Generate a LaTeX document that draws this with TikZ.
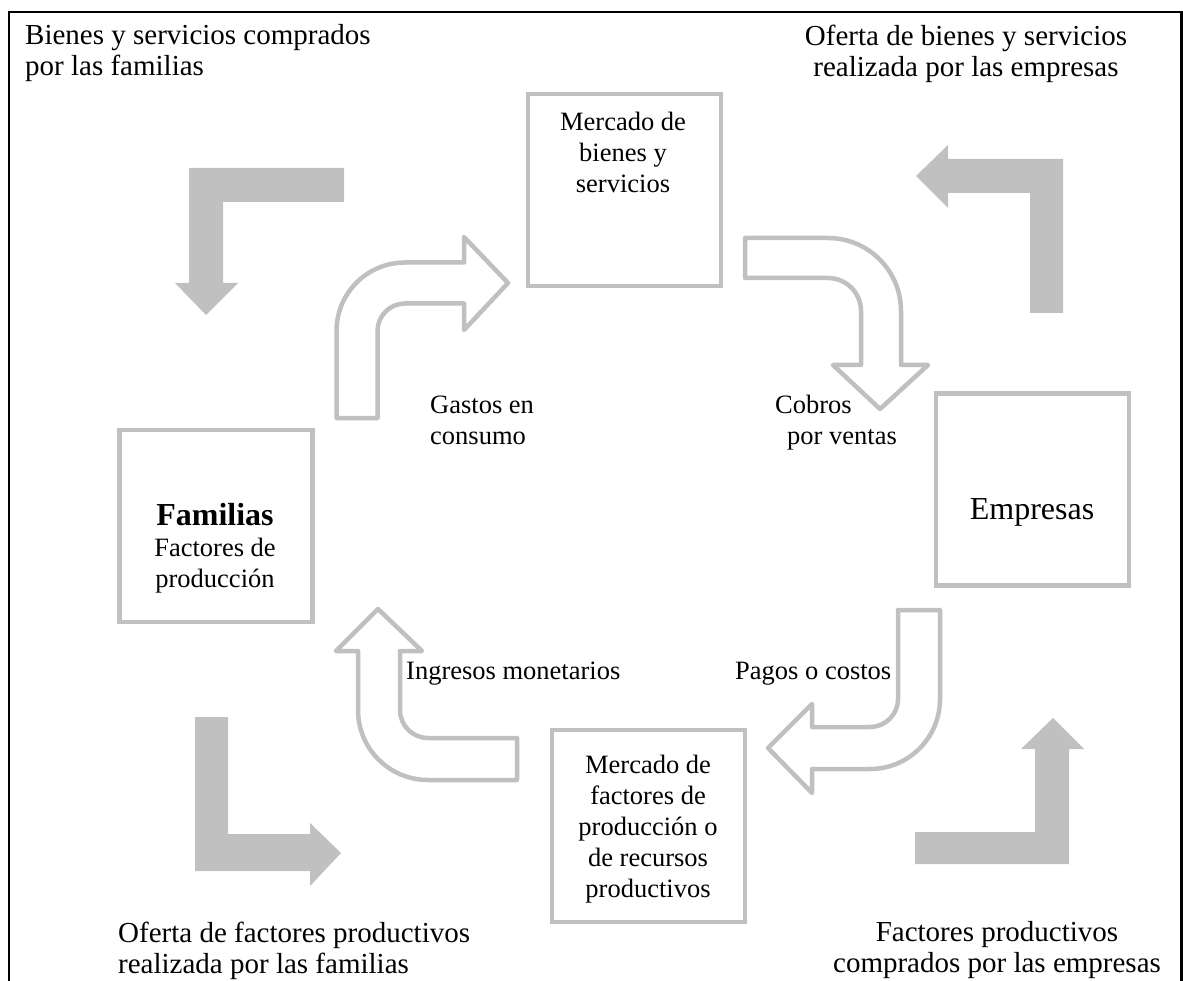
\documentclass[tikz,border=0pt]{standalone}
\usepackage{fontspec}
\setmainfont{Liberation Serif}
\definecolor{lgray}{RGB}{192,192,192}
\begin{document}
\begin{tikzpicture}[x=1pt,y=-1pt,
  box/.style={draw=lgray, line width=4.5pt, inner sep=0pt, minimum width=193pt, minimum height=192pt},
  solidarrow/.style={fill=lgray, draw=none},
  hollowarrow/.style={draw=lgray, line width=4.5pt, fill=white, line join=round},
  lbl/.style={inner sep=0pt, font=\fontsize{26.5}{31}\selectfont},
  corner/.style={inner sep=0pt, font=\fontsize{29}{31}\selectfont},
]
\useasboundingbox (0,0) rectangle (1183,981);
\fill[white] (0,0) rectangle (1183,981);
% frame
\draw[line width=2.5pt] (9,981) -- (9,12) -- (1181.5,12) -- (1181.5,981);

% boxes
\node[box] (mb) at (624.5,190) {};
\node[box] (emp) at (1032.5,489.5) {};
\node[box] (fam) at (216,526) {};
\node[box] (mf) at (648.5,826) {};

% box texts
\node[lbl, anchor=north, align=center] (mbt) at (623,112) {Mercado de\\bienes y\\servicios};
\node[inner sep=0pt, anchor=base, font=\fontsize{32}{36}\selectfont] (empt) at (1032,519) {Empresas};
\node[lbl, anchor=north, align=center] (famt) at (215,503.5) {{\fontsize{32}{31}\selectfont\bfseries Familias}\\Factores de\\producción};
\node[lbl, anchor=north, align=center] (mft) at (648,755) {Mercado de\\factores de\\producción o\\de recursos\\productivos};

% flow labels
\node[lbl, anchor=north west, align=left] (gas) at (430,396) {Gastos en\\consumo};
\node[lbl, anchor=north west, align=left] (cob) at (775,395) {Cobros\\\hspace*{12pt}por ventas};
\node[lbl, anchor=base west] (ing) at (406,679) {Ingresos monetarios};
\node[lbl, anchor=base west] (pag) at (735,679) {Pagos o costos};

% corner labels
\node[corner, anchor=north west, align=left] (tl) at (25,24.5) {Bienes y servicios comprados\\por las familias};
\node[corner, anchor=north, align=center] (tr) at (966,24.5) {Oferta de bienes y servicios\\realizada por las empresas};
\node[corner, anchor=north west, align=left] (bl) at (118,921.5) {Oferta de factores productivos\\realizada por las familias};
\node[corner, anchor=north, align=center] (br) at (997,921.5) {Factores productivos\\comprados por las empresas};

% solid bent arrows
\fill[solidarrow] (344,168) -- (189,168) -- (189,283) -- (175,283) -- (206,315) -- (238,283) -- (223,283) -- (223,202) -- (344,202) -- cycle;
\fill[solidarrow] (1063,313) -- (1063,159) -- (948,159) -- (948,145) -- (916,176) -- (948,208) -- (948,193) -- (1030,193) -- (1030,313) -- cycle;
\fill[solidarrow] (195,717) -- (228,717) -- (228,834) -- (310,834) -- (310,823) -- (341,853) -- (310,886) -- (310,871) -- (195,871) -- cycle;
\fill[solidarrow] (915,864) -- (1069,864) -- (1069,749) -- (1084,749) -- (1053,718) -- (1021,749) -- (1035,749) -- (1035,832) -- (915,832) -- cycle;

% hollow bent arrows (y axis points down: 90 = down, 270 = up)
\draw[hollowarrow] (336.5,418) -- (336.5,331) arc[start angle=180, end angle=270, radius=68.5] -- (464,262.5) -- (464,237) -- (508,283) -- (464,330) -- (464,303.5) -- (405,303.5) arc[start angle=270, end angle=180, radius=27.5] -- (377.5,418) -- cycle;
\draw[hollowarrow] (745,238) -- (828,238) arc[start angle=270, end angle=360, radius=73] -- (901,365) -- (928,365) -- (880,409) -- (833,365) -- (861,365) -- (861,311) arc[start angle=360, end angle=270, radius=33] -- (745,278) -- cycle;
\draw[hollowarrow] (898,610) -- (940,610) -- (940,699) arc[start angle=0, end angle=90, radius=70] -- (812,769) -- (812,793) -- (768,748) -- (812,704) -- (812,727) -- (870,727) arc[start angle=90, end angle=0, radius=28] -- cycle;
\draw[hollowarrow] (517,738) -- (428,738) arc[start angle=90, end angle=180, radius=28] -- (400,651) -- (422,651) -- (378,609) -- (336,651) -- (358,651) -- (358,710) arc[start angle=180, end angle=90, radius=70] -- (517,780) -- cycle;
\end{tikzpicture}
\end{document}
